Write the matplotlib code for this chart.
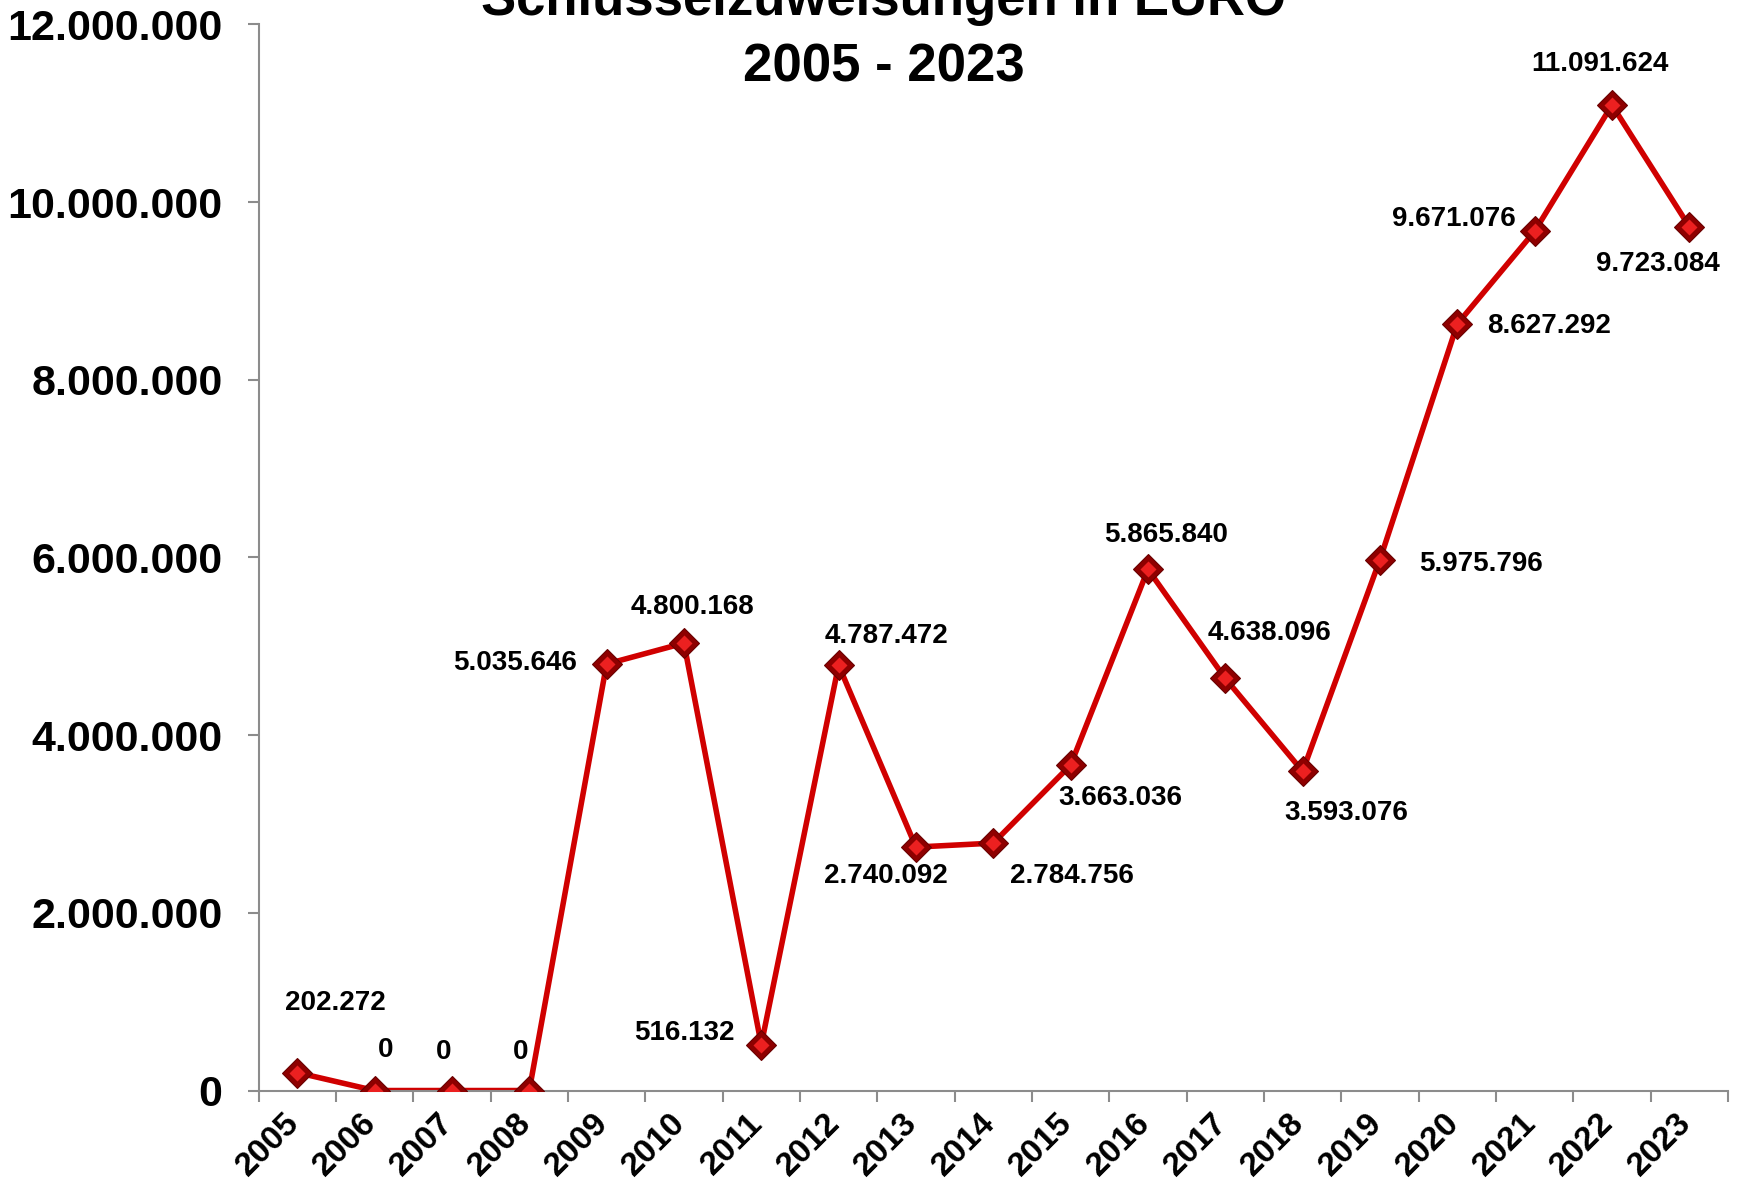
import matplotlib.pyplot as plt
from matplotlib.ticker import FuncFormatter, FixedLocator
from matplotlib.transforms import ScaledTranslation

years = [str(y) for y in range(2005, 2024)]
amounts = [202272, 0, 0, 0, 4800168, 5035646, 516132, 4787472, 2740092,
           2784756, 3663036, 5865840, 4638096, 3593076, 5975796, 8627292,
           9671076, 11091624, 9723084]
# texts as printed next to each point (2009/2010 appear swapped in the original)
label_values = [202272, 0, 0, 0, 5035646, 4800168, 516132, 4787472, 2740092,
                2784756, 3663036, 5865840, 4638096, 3593076, 5975796, 8627292,
                9671076, 11091624, 9723084]

# label placement: (dx, dy) in pixels from the point, horizontal alignment
label_pos = [
    (38, 70, "center"), (11, 41, "center"), (-8, 39, "center"), (-9, 39, "center"),
    (-30, 1, "right"), (9, 36, "center"), (-27, 12, "right"), (48, 29, "center"),
    (-30, -29, "center"), (79, -33, "center"), (50, -33, "center"), (18, 34, "center"),
    (44, 45, "center"), (44, -42, "center"), (101, -4, "center"), (92, -2, "center"),
    (-81, 12, "center"), (-12, 41, "center"), (-31, -37, "center"),
]

def dotted(v):
    return f"{int(v):,}".replace(",", ".")

plt.rcParams["font.family"] = ["Liberation Sans", "DejaVu Sans"]
plt.rcParams["font.weight"] = "bold"

fig = plt.figure(figsize=(17.4, 11.81), dpi=100)
ax = fig.add_axes([0.1486, 0.0766, 0.8445, 0.9028])

x = list(range(len(years)))
line_red = "#d00000"
ax.plot(x, amounts, color=line_red, linewidth=4, zorder=2)
ax.plot(x, amounts, linestyle="none", marker="D", markersize=15,
        markerfacecolor="#8e0000", markeredgecolor="#6a0000", markeredgewidth=0.8, zorder=3)
ax.plot(x, amounts, linestyle="none", marker="D", markersize=8.5,
        markerfacecolor="#ec2020", markeredgecolor="none", zorder=4)

for xi, v, txt, (dx, dy, ha) in zip(x, amounts, label_values, label_pos):
    ax.annotate(dotted(txt), (xi, v), textcoords="offset pixels", xytext=(dx, dy),
                ha=ha, va="center", fontsize=20, fontweight="bold", color="black",
                zorder=5)

ax.set_xlim(-0.5, len(years) - 0.5)
ax.set_ylim(0, 12000000)
ax.yaxis.set_major_locator(FixedLocator(range(0, 12000001, 2000000)))
ax.yaxis.set_major_formatter(FuncFormatter(lambda v, p: dotted(v)))
ax.tick_params(axis="y", direction="out", length=8, width=1.5, color="#8c8c8c",
               labelsize=31, pad=18)

ax.xaxis.set_major_locator(FixedLocator([i - 0.5 for i in range(len(years) + 1)]))
ax.xaxis.set_major_formatter(FuncFormatter(lambda v, p: ""))
ax.xaxis.set_minor_locator(FixedLocator(x))
ax.set_xticklabels(years, minor=True)
ax.tick_params(axis="x", which="major", direction="out", length=8, width=1.5, color="#8c8c8c")
ax.tick_params(axis="x", which="minor", length=0, labelsize=24, pad=20)
shift = ScaledTranslation(-3 / 100, 0, fig.dpi_scale_trans)
for lab in ax.get_xticklabels(minor=True):
    lab.set_rotation(45)
    lab.set_ha("right")
    lab.set_va("center")
    lab.set_rotation_mode("anchor")
    lab.set_fontweight("bold")
    lab.set_transform(lab.get_transform() + shift)

for lab in ax.get_yticklabels():
    lab.set_fontweight("bold")

for side in ("top", "right"):
    ax.spines[side].set_visible(False)
for side in ("left", "bottom"):
    ax.spines[side].set_color("#8c8c8c")
    ax.spines[side].set_linewidth(1.5)

fig.text(0.508, 1 - 14.5 / 1181, "Schlüsselzuweisungen in EURO", ha="center",
         va="baseline", fontsize=38, fontweight="bold")
fig.text(0.508, 1 - 81 / 1181, "2005 - 2023", ha="center", va="baseline",
         fontsize=38, fontweight="bold")

fig.savefig("out.png", dpi=100, facecolor="white")
